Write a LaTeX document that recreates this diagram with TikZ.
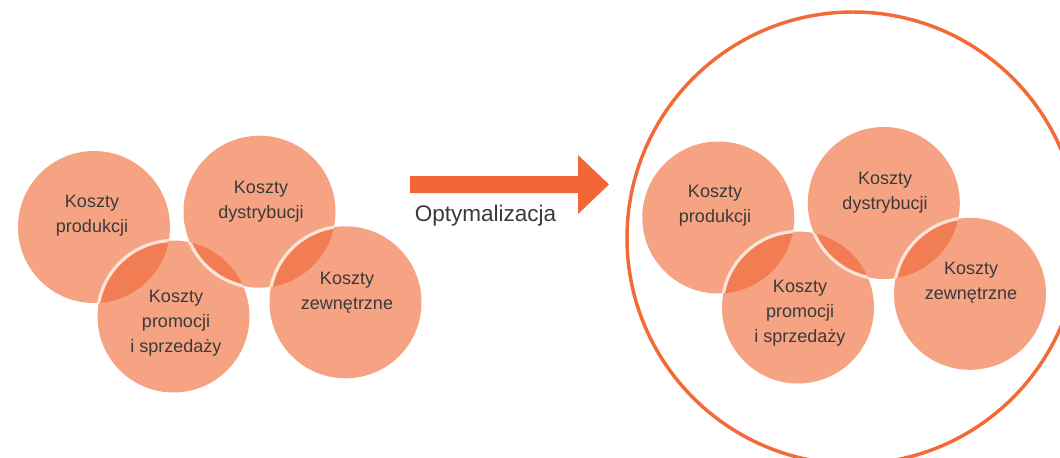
\documentclass[tikz,border=0pt]{standalone}
\usepackage{fontspec}
\setmainfont{Liberation Sans}
\begin{document}
\begin{tikzpicture}[x=0.75pt,y=-0.75pt]
\definecolor{petal}{HTML}{F5A382}
\definecolor{lens}{HTML}{F27D52}
\definecolor{rimwhite}{HTML}{FCE4D9}
\definecolor{arrowfill}{HTML}{F26534}
\definecolor{ringline}{HTML}{F26B36}
\definecolor{ink}{HTML}{3A3A3A}
\tikzset{
  blob/.style={circle, minimum size=114pt, inner sep=0pt, fill=petal},
  costtext/.style={align=center, text=ink, font=\fontsize{13.5}{18.75}\selectfont},
  lensfill/.style={fill=lens},
  rim/.style={draw=rimwhite, line width=2.4pt},
}
% overlap of two cost circles: darker lens plus the light rim of the upper circle
\newcommand{\costlens}[2]{%
  \begin{scope}
    \clip (#1.center) circle[radius=57pt];
    \fill[lensfill] (#2.center) circle[radius=57pt];
    \draw[rim] (#2.center) circle[radius=57pt];
  \end{scope}}

\useasboundingbox (0,0) rectangle (1060,457);
\clip (0,0) rectangle (1060,457);

% ---- current cost structure ----
\node[blob] (lp) at (94,227) {};
\node[blob] (ld) at (259.5,211.7) {};
\node[blob] (ls) at (173.5,316.5) {};
\node[blob] (lz) at (345.5,302.3) {};
\costlens{lp}{ls}
\costlens{ls}{ld}
\costlens{ld}{lz}
\node[costtext] (lpt) at (92,216) {Koszty\\produkcji};
\node[costtext] (ldt) at (261,201.5) {Koszty\\dystrybucji};
\node[costtext] (lst) at (176,323) {Koszty\\promocji\\i sprzedaży};
\node[costtext] (lzt) at (347,292.5) {Koszty\\zewnętrzne};

% ---- optimisation arrow ----
\fill[arrowfill] (410,176) -- (578,176) -- (578,155) -- (609,184.5)
  -- (578,214) -- (578,193) -- (410,193) -- cycle;
\node[text=ink, font=\fontsize{16.9}{20}\selectfont] (opt) at (485.5,216) {Optymalizacja};

% ---- optimised cost structure ----
\node[circle, draw=ringline, line width=2.6pt, minimum size=339pt, inner sep=0pt] (ring) at (853,238) {};
\node[blob] (rp) at (718.3,217.5) {};
\node[blob] (rd) at (883.8,203) {};
\node[blob] (rs) at (798,307.5) {};
\node[blob] (rz) at (970,293.8) {};
\costlens{rp}{rs}
\costlens{rs}{rd}
\costlens{rd}{rz}
\node[costtext] (rpt) at (715,206) {Koszty\\produkcji};
\node[costtext] (rdt) at (885,192.5) {Koszty\\dystrybucji};
\node[costtext] (rst) at (800,313) {Koszty\\promocji\\i sprzedaży};
\node[costtext] (rzt) at (971,282.5) {Koszty\\zewnętrzne};
\end{tikzpicture}
\end{document}
